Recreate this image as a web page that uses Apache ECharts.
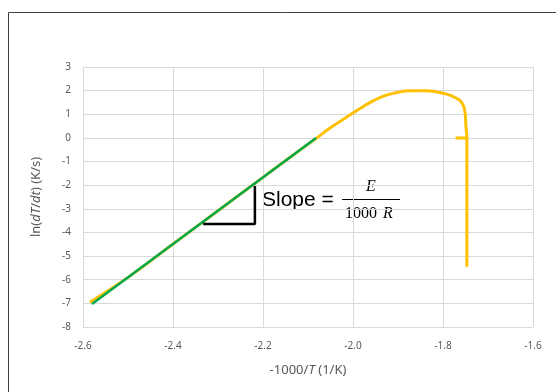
<!DOCTYPE html>
<html><head><meta charset="utf-8">
<script src="https://cdn.jsdelivr.net/npm/echarts@6/dist/echarts.min.js"></script>
<style>html,body{margin:0;padding:0;background:#fff}#c{width:556px;height:392px}</style>
</head><body><div id="c"></div>
<script>
// Fit line (green)
const fitX = [-2.58, -2.082];
const fitY = [-7.03, 0.0];
// Measured curve (orange)
const curveX = [-2.585, -2.5, -2.4, -2.3, -2.2, -2.12, -2.084, -2.051, -2.0, -1.977, -1.952, -1.929, -1.905, -1.873, -1.836, -1.8, -1.77, -1.756, -1.751, -1.749, -1.747, -1.747];
const curveY = [-6.95, -5.9, -4.49, -3.08, -1.67, -0.54, -0.05, 0.42, 1.05, 1.33, 1.6, 1.79, 1.91, 1.99, 1.99, 1.89, 1.68, 1.41, 1.05, 0.48, 0.0, -5.45];
// Small horizontal stub (orange)
const stubX = [-1.772, -1.747];
const stubY = [0.0, 0.0];
// Slope triangle (black)
const triX = [-2.333, -2.218, -2.218];
const triY = [-3.64, -3.64, -2.03];
// Axis ticks
const xMin = -2.6, xMax = -1.6, xStep = 0.2;
const yMin = -8, yMax = 3, yStep = 1;

const zip = (a, b) => a.map((v, i) => [v, b[i]]);
const chart = echarts.init(document.getElementById('c'), null, {renderer: 'canvas'});
const labelFont = {color: '#595959', fontSize: 10, fontFamily: 'Noto Sans'};
const nameRich = {
  n: {fontSize: 13, color: '#595959', fontFamily: 'Noto Sans'},
  i: {fontSize: 13, color: '#595959', fontStyle: 'italic', fontFamily: 'Noto Sans'}
};
chart.setOption({
  animation: false,
  backgroundColor: '#fff',
  grid: {left: 83, right: 23, top: 67, bottom: 65},
  xAxis: {
    type: 'value', min: xMin, max: xMax, interval: xStep,
    axisLine: {show: false}, axisTick: {show: false},
    splitLine: {show: true, lineStyle: {color: '#d9d9d9', width: 1}},
    axisLabel: Object.assign({margin: 14, formatter: v => v.toFixed(1)}, labelFont),
    name: '{n|-1000/}{i|T}{n| (1/K)}', nameLocation: 'middle', nameGap: 37,
    nameTextStyle: {rich: nameRich}
  },
  yAxis: {
    type: 'value', min: yMin, max: yMax, interval: yStep,
    axisLine: {show: false}, axisTick: {show: false},
    splitLine: {show: true, lineStyle: {color: '#d9d9d9', width: 1}},
    axisLabel: Object.assign({margin: 12}, labelFont),
    name: '{n|ln(}{i|dT}{n|/}{i|dt}{n|) (K/s)}', nameLocation: 'middle', nameGap: 40,
    nameTextStyle: {rich: nameRich}
  },
  graphic: [
    {type: 'rect', shape: {x: 8.5, y: 12.5, width: 600, height: 450}, style: {fill: 'none', stroke: '#404040', lineWidth: 1}, silent: true, z: -1},
    {type: 'text', x: 262, y: 200, style: {text: 'Slope =', fill: '#000', font: '21px "Liberation Sans"', textVerticalAlign: 'middle'}},
    {type: 'text', x: 371, y: 187, style: {text: 'E', fill: '#000', font: 'italic 16px "Liberation Serif"', textAlign: 'center', textVerticalAlign: 'middle'}},
    {type: 'line', shape: {x1: 342, y1: 199.5, x2: 400, y2: 199.5}, style: {stroke: '#000', lineWidth: 1}},
    {type: 'text', x: 377, y: 214, style: {text: '1000', fill: '#000', font: '16px "Liberation Serif"', textAlign: 'right', textVerticalAlign: 'middle'}},
    {type: 'text', x: 388, y: 214, style: {text: 'R', fill: '#000', font: 'italic 16px "Liberation Serif"', textAlign: 'center', textVerticalAlign: 'middle'}}
  ],
  series: [
    {type: 'line', data: zip(curveX, curveY), showSymbol: false, smooth: 0.5, smoothMonotone: 'none', lineStyle: {color: '#FFC000', width: 3}, z: 2},
    {type: 'line', data: zip(stubX, stubY), showSymbol: false, lineStyle: {color: '#FFC000', width: 3}, z: 2},
    {type: 'line', data: zip(fitX, fitY), showSymbol: false, lineStyle: {color: '#00A84F', width: 2.5}, z: 3},
    {type: 'line', data: zip(triX, triY), showSymbol: false, lineStyle: {color: '#000', width: 2.5}, z: 4}
  ]
});
</script></body></html>
